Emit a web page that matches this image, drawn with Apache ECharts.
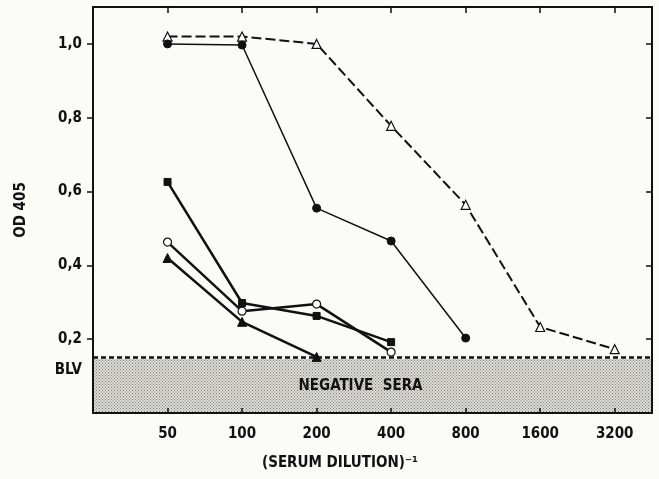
<!DOCTYPE html>
<html>
<head>
<meta charset="utf-8">
<script src="https://cdn.jsdelivr.net/npm/echarts@6/dist/echarts.min.js"></script>
<style>
  html, body { margin: 0; padding: 0; background: #fbfbf8; }
  #chart { width: 659px; height: 479px; }
</style>
</head>
<body>
<div id="chart"></div>
<script>
// dilution steps (x axis, log2 spaced)
var dilutions = [50, 100, 200, 400, 800, 1600, 3200];
var yTickValues = [0.2, 0.4, 0.6, 0.8, 1.0];
var blvValue = 0.146;

// OD 405 readings
var openTriangle = [1.02, 1.02, 1.0, 0.778, 0.564, 0.233, 0.173];
var filledCircle = [1.0, 0.997, 0.555, 0.466, 0.203];
var filledSquare = [0.626, 0.298, 0.263, 0.192];
var openCircle = [0.463, 0.276, 0.295, 0.165];
var filledTriangle = [0.42, 0.247, 0.152];

var FONT = '"DejaVu Sans Condensed", "Liberation Sans Narrow", sans-serif';

function pairs(vals) {
  return vals.map(function (v, i) { return [i, v]; });
}

// dotted fill for the negative sera band
var pat = document.createElement('canvas');
pat.width = 3; pat.height = 3;
var pctx = pat.getContext('2d');
pctx.fillStyle = '#dddcd7';
pctx.fillRect(0, 0, 3, 3);
pctx.fillStyle = '#7d7d7a';
pctx.fillRect(0, 0, 1, 1);
pctx.fillRect(1.5, 1.5, 1, 1);

var xIdx = dilutions.map(function (d, i) { return i; });
var axisLine = { onZero: false, lineStyle: { color: '#111', width: 2 } };

var myChart = echarts.init(document.getElementById('chart'));
myChart.setOption({
  backgroundColor: '#fbfbf8',
  animation: false,
  textStyle: { fontFamily: FONT },
  grid: { left: 93, top: 7, right: 7, bottom: 66 },
  xAxis: [
    {
      type: 'value', min: -1, max: 6.5, interval: 1, z: 10,
      splitLine: { show: false },
      axisLine: axisLine,
      axisTick: { inside: true, length: 5, customValues: xIdx, lineStyle: { color: '#111', width: 1.5 } },
      axisLabel: {
        customValues: xIdx, margin: 14,
        color: '#111', fontSize: 15, fontWeight: 'bold', fontFamily: FONT,
        formatter: function (v) { return String(dilutions[Math.round(v)]); }
      }
    },
    {
      type: 'value', position: 'top', min: -1, max: 6.5, interval: 1, z: 10,
      splitLine: { show: false },
      axisLine: axisLine,
      axisTick: { inside: true, length: 6, customValues: xIdx, lineStyle: { color: '#111', width: 1.5 } },
      axisLabel: { show: false }
    }
  ],
  yAxis: [
    {
      type: 'value', min: 0, max: 1.1, z: 10,
      name: 'OD 405', nameLocation: 'middle', nameGap: 64, nameRotate: 90,
      nameTextStyle: { color: '#111', fontSize: 15, fontWeight: 'bold', fontFamily: FONT },
      splitLine: { show: false },
      axisLine: axisLine,
      axisTick: { length: 6, customValues: yTickValues, lineStyle: { color: '#111', width: 1.5 } },
      axisLabel: {
        customValues: yTickValues.concat([0.117]), margin: 11,
        color: '#111', fontSize: 15, fontWeight: 'bold', fontFamily: FONT,
        formatter: function (v) {
          if (Math.abs(v - 0.117) < 0.001) return 'BLV';
          return v.toFixed(1).replace('.', ',');
        }
      }
    },
    {
      type: 'value', position: 'right', min: 0, max: 1.1, z: 10,
      splitLine: { show: false },
      axisLine: axisLine,
      axisTick: { inside: true, length: 6, customValues: yTickValues, lineStyle: { color: '#111', width: 1.5 } },
      axisLabel: { show: false }
    }
  ],
  graphic: [
    {
      type: 'text', left: 262, top: 456,
      style: { text: '(SERUM DILUTION)⁻¹', fill: '#111', font: 'bold 15px ' + FONT }
    }
  ],
  series: [
    {
      type: 'line', data: [], silent: true,
      markArea: {
        silent: true,
        itemStyle: { color: { image: pat, repeat: 'repeat' } },
        label: {
          show: true, position: 'inside', offset: [-12, 0],
          color: '#111', fontSize: 15, fontWeight: 'bold', fontFamily: FONT,
          formatter: 'NEGATIVE  SERA'
        },
        data: [[{ yAxis: 0 }, { yAxis: blvValue }]]
      },
      markLine: {
        silent: true, symbol: 'none', label: { show: false },
        lineStyle: { color: '#111', width: 2.5, type: [5, 3] },
        data: [{ yAxis: blvValue }]
      }
    },
    {
      type: 'line', data: pairs(openTriangle), z: 3,
      lineStyle: { color: '#111', width: 2, type: [10, 4] },
      symbol: 'triangle', symbolSize: 9,
      itemStyle: { color: '#fff', borderColor: '#111', borderWidth: 1.2 }
    },
    {
      type: 'line', data: pairs(filledCircle), z: 4,
      lineStyle: { color: '#111', width: 1.5 },
      symbol: 'circle', symbolSize: 8,
      itemStyle: { color: '#111', borderColor: '#111' }
    },
    {
      type: 'line', data: pairs(filledSquare), z: 4,
      lineStyle: { color: '#111', width: 2.5 },
      symbol: 'rect', symbolSize: 7,
      itemStyle: { color: '#111', borderColor: '#111' }
    },
    {
      type: 'line', data: pairs(openCircle), z: 4,
      lineStyle: { color: '#111', width: 2.5 },
      symbol: 'circle', symbolSize: 8,
      itemStyle: { color: '#fff', borderColor: '#111', borderWidth: 1.2 }
    },
    {
      type: 'line', data: pairs(filledTriangle), z: 4,
      lineStyle: { color: '#111', width: 2.5 },
      symbol: 'triangle', symbolSize: 9,
      itemStyle: { color: '#111', borderColor: '#111' }
    }
  ]
});
</script>
</body>
</html>
